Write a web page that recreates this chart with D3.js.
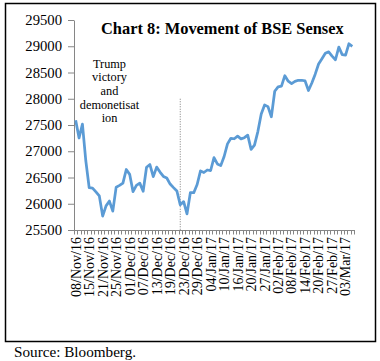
<!DOCTYPE html>
<html>
<head>
<meta charset="utf-8">
<script src="https://cdn.jsdelivr.net/npm/d3@7"></script>
<style>
  body { margin: 0; background: #fff; }
  svg { display: block; font-family: "Liberation Serif", "Times New Roman", serif; }
</style>
</head>
<body>
<svg width="380" height="361"></svg>
<script>
// trading days shown on the category axis
var dates = [
  "08/Nov/16","09/Nov/16","10/Nov/16","11/Nov/16","15/Nov/16","16/Nov/16","17/Nov/16","18/Nov/16",
  "21/Nov/16","22/Nov/16","23/Nov/16","24/Nov/16","25/Nov/16","28/Nov/16","29/Nov/16","30/Nov/16",
  "01/Dec/16","02/Dec/16","05/Dec/16","06/Dec/16","07/Dec/16","08/Dec/16","09/Dec/16","12/Dec/16",
  "13/Dec/16","14/Dec/16","15/Dec/16","16/Dec/16","19/Dec/16","20/Dec/16","21/Dec/16","22/Dec/16",
  "23/Dec/16","26/Dec/16","27/Dec/16","28/Dec/16","29/Dec/16","30/Dec/16",
  "02/Jan/17","03/Jan/17","04/Jan/17","05/Jan/17","06/Jan/17","09/Jan/17","10/Jan/17","11/Jan/17",
  "12/Jan/17","13/Jan/17","16/Jan/17","17/Jan/17","18/Jan/17","19/Jan/17","20/Jan/17","23/Jan/17",
  "24/Jan/17","25/Jan/17","27/Jan/17","30/Jan/17","31/Jan/17",
  "01/Feb/17","02/Feb/17","03/Feb/17","06/Feb/17","07/Feb/17","08/Feb/17","09/Feb/17","10/Feb/17",
  "13/Feb/17","14/Feb/17","15/Feb/17","16/Feb/17","17/Feb/17","20/Feb/17","21/Feb/17","22/Feb/17",
  "23/Feb/17","27/Feb/17","28/Feb/17",
  "01/Mar/17","02/Mar/17","03/Mar/17","06/Mar/17","07/Mar/17"
];

// BSE Sensex close
var sensex = [
  27591, 27252, 27518, 26819, 26305, 26298, 26227, 26150,
  25765, 25960, 26051, 25860, 26316, 26350, 26394, 26653,
  26560, 26231, 26350, 26393, 26237, 26695, 26747, 26516,
  26698, 26603, 26520, 26490, 26375, 26307, 26243, 25980,
  26041, 25808, 26214, 26211, 26366, 26626,
  26595, 26643, 26633, 26879, 26759, 26726, 26900, 27140,
  27247, 27238, 27288, 27235, 27258, 27308, 27034, 27117,
  27375, 27708, 27882, 27850, 27656,
  28142, 28227, 28240, 28439, 28335, 28289, 28330, 28352,
  28352, 28339, 28156, 28301, 28468, 28661, 28762, 28865,
  28893, 28812, 28743,
  28985, 28840, 28832, 29048, 28999
];

var yTicks = [25500, 26000, 26500, 27000, 27500, 28000, 28500, 29000, 29500];
var labelEvery = 4;

var title = "Chart 8: Movement of BSE Sensex";
var noteLines = ["Trump", "victory", "and", "demonetisat", "ion"];
var markerDate = "22/Dec/16";   // dotted divider
var markerTop = 28000;
var source = "Source: Bloomberg.";

var svg = d3.select("svg");

// outer frame
svg.append("rect")
    .attr("x", 5.5).attr("y", 3.5)
    .attr("width", 370).attr("height", 338)
    .attr("fill", "none")
    .attr("stroke", "#000")
    .attr("stroke-width", 1.5);

var x = d3.scaleBand().domain(d3.range(dates.length)).range([74, 354]).padding(0);
var y = d3.scaleLinear().domain([25500, 29500]).range([230, 20]);
function cx(i) { return x(i) + x.bandwidth() / 2; }

// y axis
var yAxis = svg.append("g")
    .attr("transform", "translate(74,0)")
    .call(d3.axisLeft(y).tickValues(yTicks).tickSize(6).tickSizeOuter(0).tickPadding(6).tickFormat(d3.format("d")));
yAxis.select(".domain").attr("stroke", "#868686");
yAxis.selectAll(".tick line").attr("stroke", "#868686");
yAxis.selectAll("text")
    .attr("fill", "#000")
    .style("font-family", "Liberation Serif")
    .style("font-size", "14.7px");

// x axis: line, boundary ticks, rotated labels
var xg = svg.append("g");
xg.append("line")
    .attr("x1", 74).attr("x2", 354)
    .attr("y1", 230.5).attr("y2", 230.5)
    .attr("stroke", "#868686");
xg.selectAll(".xt")
    .data(d3.range(dates.length + 1))
    .enter().append("line")
    .attr("x1", function(i) { return Math.round(74 + i * x.bandwidth()) + 0.5; })
    .attr("x2", function(i) { return Math.round(74 + i * x.bandwidth()) + 0.5; })
    .attr("y1", 230).attr("y2", 234.5)
    .attr("stroke", "#868686");
xg.selectAll(".xl")
    .data(d3.range(0, dates.length, labelEvery))
    .enter().append("text")
    .attr("transform", function(i) { return "translate(" + cx(i) + ",237) rotate(-90)"; })
    .attr("text-anchor", "end")
    .attr("dy", "0.35em")
    .style("font-size", "14px")
    .text(function(i) { return dates[i]; });

// dotted divider
var mi = dates.indexOf(markerDate);
svg.append("line")
    .attr("x1", cx(mi)).attr("x2", cx(mi))
    .attr("y1", y(markerTop)).attr("y2", 230)
    .attr("stroke", "#7f7f7f")
    .attr("stroke-width", 1)
    .attr("stroke-dasharray", "1,1.5");

// the series
var line = d3.line()
    .x(function(d, i) { return cx(i); })
    .y(function(d) { return y(d); });
svg.append("path")
    .datum(sensex)
    .attr("d", line)
    .attr("fill", "none")
    .attr("stroke", "#5B9BD5")
    .attr("stroke-width", 2.75)
    .attr("stroke-linejoin", "round");

// title
svg.append("text")
    .attr("x", 101).attr("y", 33.5)
    .style("font-size", "16.4px")
    .style("font-weight", "bold")
    .text(title);

// annotation
svg.append("g").selectAll("text")
    .data(noteLines)
    .enter().append("text")
    .attr("x", 109.5)
    .attr("y", function(d, i) { return 67.5 + i * 13.7; })
    .attr("text-anchor", "middle")
    .style("font-size", "12.3px")
    .text(function(d) { return d; });

svg.append("text")
    .attr("x", 14).attr("y", 357)
    .style("font-size", "15.2px")
    .text(source);
</script>
</body>
</html>
